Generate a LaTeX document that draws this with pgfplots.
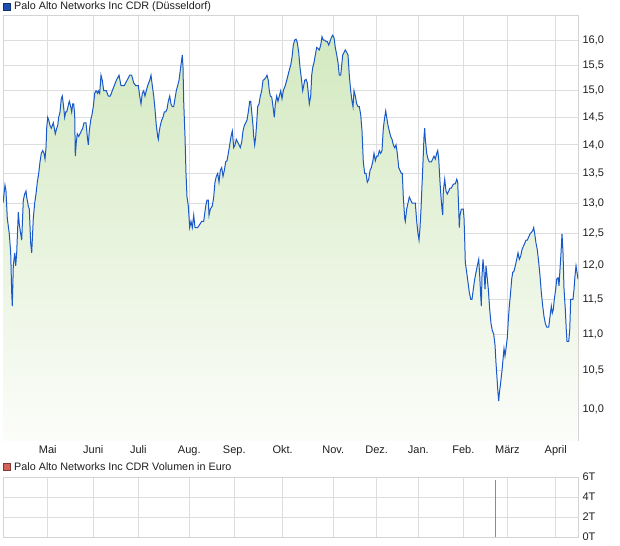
\documentclass[border=0pt]{standalone}
\usepackage{pgfplots}
\pgfplotsset{compat=1.18}
\usepackage{pgfplotstable}
\usepackage{fontspec}
\setmainfont{Liberation Sans}
\definecolor{lineblue}{RGB}{24,88,200}
\definecolor{gridgray}{RGB}{221,221,221}
\definecolor{framegray}{RGB}{212,212,212}
\definecolor{fillTop}{RGB}{211,233,192}
\definecolor{fillBot}{RGB}{252,253,250}
\definecolor{txt}{RGB}{30,30,30}
\definecolor{legblue}{RGB}{30,80,180}
\definecolor{legred}{RGB}{214,96,90}

\pgfplotstableread{
x y
3.0 13.0
5.0 13.3
6.0 13.2
7.3 12.75
9.3 12.5
10.7 12.2
11.7 11.6
12.3 11.4
13.3 12.0
14.7 12.2
15.7 12.0
16.7 12.2
18.3 12.85
19.3 12.65
20.7 12.5
21.7 12.4
22.7 12.8
23.3 13.05
24.7 13.15
26.0 13.2
26.7 13.1
28.3 12.95
29.3 12.9
30.7 12.35
31.7 12.2
32.3 12.4
33.3 12.75
34.7 13.0
36.0 13.15
37.3 13.35
38.7 13.5
40.0 13.7
41.3 13.85
42.7 13.9
44.0 13.85
45.0 13.75
46.0 13.95
46.7 14.3
47.7 14.5
48.7 14.45
50.0 14.35
51.3 14.3
52.3 14.35
53.3 14.4
54.3 14.3
55.3 14.2
56.7 14.3
57.7 14.35
58.7 14.5
60.0 14.6
61.3 14.85
62.3 14.9
63.3 14.75
64.7 14.5
65.7 14.6
66.7 14.6
68.0 14.7
69.3 14.8
70.7 14.7
71.7 14.6
72.7 14.75
73.7 14.75
74.7 14.55
75.3 13.8
76.3 14.05
77.3 14.2
78.7 14.15
80.0 14.2
81.3 14.25
82.7 14.3
84.0 14.4
86.0 14.4
87.3 14.15
88.3 14.0
89.3 14.25
90.7 14.45
92.0 14.55
93.3 14.7
94.7 14.95
96.0 15.0
97.7 14.95
98.3 15.0
99.7 14.95
101.0 15.3
102.3 15.2
103.7 15.0
106.3 15.0
108.3 14.9
110.3 14.9
112.3 15.0
114.3 15.1
116.3 15.2
119.0 15.3
121.0 15.1
124.3 15.1
127.0 15.2
129.7 15.3
131.7 15.3
133.7 15.15
135.7 15.1
138.3 15.1
139.7 14.9
141.0 14.75
142.3 14.95
143.7 15.0
145.0 14.9
146.3 15.0
147.7 15.1
149.7 15.2
151.0 15.3
152.3 15.1
153.7 14.9
155.0 14.65
156.3 14.35
157.7 14.15
158.3 14.1
159.3 14.25
160.3 14.35
161.7 14.45
163.0 14.5
164.3 14.6
165.7 14.6
167.0 14.65
168.3 14.8
169.7 14.9
171.0 14.75
172.3 14.7
173.7 14.7
175.0 14.85
176.3 15.0
177.7 15.1
179.0 15.2
180.3 15.4
181.3 15.55
182.3 15.7
183.0 15.45
183.7 14.8
185.0 14.15
186.0 13.5
187.0 13.1
188.3 12.95
189.7 12.6
191.0 12.7
192.3 12.6
193.7 12.8
195.0 12.6
197.7 12.6
199.7 12.65
201.7 12.7
203.7 12.7
205.7 12.95
207.0 13.05
208.3 13.05
209.0 12.8
210.3 12.9
212.3 12.95
213.7 13.1
215.0 13.35
216.3 13.45
217.7 13.5
219.0 13.35
220.3 13.55
221.7 13.6
223.0 13.45
224.3 13.55
225.7 13.7
227.0 13.72
228.3 13.85
229.7 14.0
231.0 14.15
232.3 14.25
233.7 13.95
235.0 14.0
236.3 14.1
237.7 14.05
239.0 14.0
240.3 13.95
241.7 14.05
243.0 14.25
244.3 14.35
245.7 14.4
247.0 14.45
248.3 14.6
249.7 14.8
250.7 14.8
251.7 14.6
253.0 14.35
253.7 14.15
254.7 14.0
255.7 14.15
256.7 14.4
257.7 14.7
259.0 14.75
260.3 14.9
261.7 15.0
263.0 15.2
264.3 15.22
265.7 15.25
267.0 15.3
268.3 15.2
269.3 15.0
270.3 14.9
271.7 14.88
273.0 14.7
274.3 14.5
275.3 14.75
276.7 14.9
278.0 14.8
279.3 14.9
280.7 15.0
282.0 14.85
283.3 15.0
285.3 15.1
286.7 15.2
288.0 15.3
289.3 15.4
290.7 15.5
292.0 15.65
293.3 15.9
294.7 16.0
296.0 16.02
297.3 15.95
298.7 15.75
300.0 15.45
301.3 15.25
302.7 15.0
303.7 15.1
304.7 15.2
306.0 15.22
307.3 15.15
308.3 14.95
309.3 14.75
310.7 14.9
311.7 15.3
312.7 15.45
314.0 15.55
315.3 15.7
316.7 15.85
318.0 15.83
319.3 15.8
320.7 15.9
322.0 16.07
323.3 16.0
324.7 16.0
326.0 15.97
327.3 15.97
328.7 15.9
330.0 15.97
331.3 16.05
332.7 16.1
334.0 16.05
335.3 15.85
336.7 15.7
338.0 15.55
339.3 15.3
340.7 15.3
341.7 15.5
342.7 15.7
344.0 15.75
345.3 15.8
346.7 15.75
348.0 15.7
349.3 15.3
350.7 15.0
352.0 14.8
353.0 14.7
354.0 15.0
355.3 14.9
356.7 14.75
358.0 14.7
359.3 14.7
360.7 14.55
362.0 14.25
363.3 13.7
364.7 13.5
366.0 13.5
367.3 13.35
368.7 13.4
370.0 13.55
371.3 13.6
372.7 13.7
374.0 13.85
375.3 13.72
376.7 13.8
378.0 13.8
379.3 13.9
380.7 13.85
382.0 13.9
383.3 14.3
384.7 14.5
385.7 14.62
386.7 14.5
388.0 14.35
389.3 14.25
390.7 14.15
392.0 14.1
393.3 14.0
394.7 13.95
396.0 14.0
397.3 13.85
398.7 13.6
400.0 13.55
401.3 13.5
402.3 13.5
403.3 13.1
404.7 12.75
405.3 12.7
406.7 12.9
408.0 13.0
409.3 13.1
410.7 13.05
412.0 13.0
415.3 13.0
416.7 12.7
418.0 12.5
419.0 12.4
420.0 12.6
421.0 12.9
422.0 13.3
423.0 13.7
424.0 14.15
424.7 14.3
425.3 14.1
426.7 13.85
428.0 13.75
429.3 13.7
431.3 13.7
432.7 13.75
434.0 13.8
435.3 13.75
436.7 13.85
437.7 13.9
438.7 13.75
440.0 13.35
441.0 13.1
442.0 12.9
442.7 12.8
443.3 13.2
444.7 13.4
446.0 13.2
447.3 13.15
448.7 13.2
450.0 13.25
451.3 13.25
452.7 13.3
454.0 13.32
455.3 13.32
456.7 13.4
457.7 13.35
458.7 12.9
459.3 12.6
460.0 12.8
461.3 12.9
463.3 12.9
464.0 12.75
464.7 12.4
465.3 12.05
466.7 11.9
468.0 11.75
469.3 11.6
470.7 11.5
472.0 11.5
473.3 11.65
474.7 11.8
476.0 11.9
477.3 12.0
478.7 12.1
479.7 11.85
480.7 11.55
481.3 11.4
482.0 11.85
483.0 12.1
484.0 11.9
485.0 11.65
486.0 12.0
487.0 11.85
488.3 11.65
489.7 11.35
491.0 11.15
492.3 11.05
493.7 11.0
495.0 10.85
496.0 10.6
497.0 10.4
498.0 10.2
498.7 10.1
499.3 10.2
500.7 10.35
502.0 10.5
503.0 10.65
504.0 10.8
505.0 10.7
506.0 10.8
507.3 10.95
508.3 11.2
509.3 11.4
510.3 11.55
511.7 11.8
512.7 11.9
514.0 11.92
515.3 12.0
516.7 12.1
518.0 12.2
519.3 12.1
520.7 12.15
522.0 12.25
523.3 12.3
524.7 12.35
526.0 12.4
527.3 12.4
528.7 12.45
530.0 12.5
531.3 12.52
532.7 12.55
533.7 12.6
534.7 12.5
536.0 12.35
537.3 12.25
538.7 12.05
540.0 11.85
541.3 11.6
542.7 11.4
544.0 11.25
545.3 11.15
546.7 11.1
548.7 11.1
550.0 11.25
551.3 11.4
552.3 11.3
553.3 11.35
554.3 11.5
555.7 11.65
556.7 11.8
558.0 11.82
559.0 11.7
560.0 11.95
561.0 12.2
562.0 12.5
563.0 12.2
564.0 11.65
565.3 11.35
566.3 11.05
567.0 10.9
568.7 10.9
569.7 11.05
570.7 11.5
572.0 11.5
573.0 11.5
574.0 11.65
575.0 11.85
576.0 12.0
577.0 11.9
578.0 11.8
}\pricedata

\pgfplotsset{
  chartbase/.style={
    scale only axis,
    width=575bp,
    xmin=3, xmax=578,
    xtick={47.7,93.3,138.3,189.3,234.3,282.7,333.3,376.7,418.3,463.3,507.3,555.7},
    grid=major,
    grid style={gridgray, line width=1bp},
    axis line style={framegray, line width=1bp},
    tick style={draw=none},
    yticklabel pos=right,
    tick label style={font=\fontsize{11bp}{13bp}\selectfont, text=txt},
    yticklabel style={anchor=west, xshift=1bp},
  }
}

\begin{document}
\begin{tikzpicture}[x=1bp,y=1bp]
\useasboundingbox (0,0) rectangle (620,-546);

% legend headers
\filldraw[fill=legblue, draw=legblue!60!black, line width=0.8bp] (3,-3) rectangle (10.5,-10.5);
\node[anchor=west, inner sep=0pt, font=\fontsize{10.8bp}{13bp}\selectfont, text=txt] at (14,-6.8) {Palo Alto Networks Inc CDR (Düsseldorf)};
\filldraw[fill=legred, draw=legred!60!black, line width=0.8bp] (3,-463) rectangle (10.5,-470.5);
\node[anchor=west, inner sep=0pt, font=\fontsize{10.8bp}{13bp}\selectfont, text=txt] at (14,-466.8) {Palo Alto Networks Inc CDR Volumen in Euro};

\begin{axis}[chartbase,
  at={(3bp,-16bp)}, anchor=north west,
  height=425bp,
  ymode=log, ymin=9.60, ymax=16.50,
  log origin y=infty,
  xticklabels={Mai,Juni,Juli,Aug.,Sep.,Okt.,Nov.,Dez.,Jan.,Feb.,März,April},
  ytick={10,10.5,11,11.5,12,12.5,13,13.5,14,14.5,15,15.5,16},
  yticklabels={{10,0},{10,5},{11,0},{11,5},{12,0},{12,5},{13,0},{13,5},{14,0},{14,5},{15,0},{15,5},{16,0}},
  xticklabel style={yshift=-1bp},
]
\addplot[draw=none, top color=fillTop, bottom color=fillBot] table[x=x,y=y] {\pricedata} \closedcycle;
\addplot[lineblue, line width=1bp, mark=none] table[x=x,y=y] {\pricedata};
\end{axis}

\begin{axis}[chartbase,
  at={(3bp,-477bp)}, anchor=north west,
  height=60bp,
  ymin=0, ymax=6,
  xticklabel=\empty,
  ytick={0,2,4,6},
  yticklabels={0T,2T,4T,6T},
]
\addplot[ycomb, color=black!45, line width=1bp, mark=none] coordinates {(495,5.7)};
\end{axis}
\end{tikzpicture}
\end{document}
